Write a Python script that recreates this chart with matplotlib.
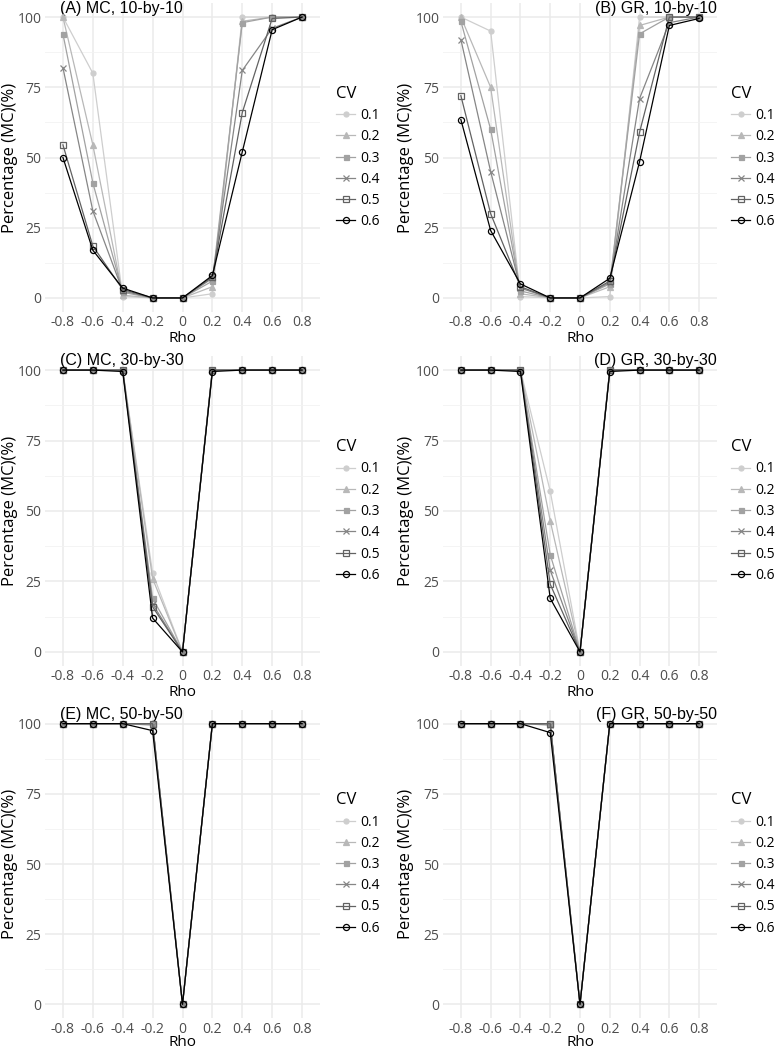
import numpy as np
import matplotlib
matplotlib.use('Agg')
import matplotlib.pyplot as plt

# x categories (Rho) and legend levels (CV)
rho_labels = ["-0.8", "-0.6", "-0.4", "-0.2", "0", "0.2", "0.4", "0.6", "0.8"]
cv_labels = ["0.1", "0.2", "0.3", "0.4", "0.5", "0.6"]

# percentages, one row per CV level
mc_10 = [
    [100, 80, 0.5, 0, 0, 1.5, 100, 100, 100],
    [100, 54.5, 1, 0, 0, 4, 98.5, 100, 100],
    [94, 41, 2, 0, 0, 6, 98, 100, 100],
    [82, 31, 2.5, 0, 0, 7, 81, 96, 100],
    [54.5, 18.5, 3, 0, 0, 7.5, 66, 99.5, 100],
    [50, 17, 3.5, 0, 0, 8, 52, 95.5, 100],
]
gr_10 = [
    [100, 95, 0.5, 0, 0, 0.5, 100, 100, 100],
    [100, 75, 1.5, 0, 0, 4, 97, 100, 100],
    [98.5, 60, 2.5, 0, 0, 5, 94, 100, 100],
    [92, 45, 3.5, 0, 0, 5.5, 71, 98, 100],
    [72, 30, 4, 0, 0, 6, 59, 100, 100],
    [63.5, 24, 5, 0, 0, 7, 48.5, 97, 99.5],
]
mc_30 = [
    [100, 100, 100, 28, 0, 100, 100, 100, 100],
    [100, 100, 100, 26, 0, 100, 100, 100, 100],
    [100, 100, 100, 19, 0, 100, 100, 100, 100],
    [100, 100, 100, 17, 0, 100, 100, 100, 100],
    [100, 100, 100, 16, 0, 100, 100, 100, 100],
    [100, 100, 99.5, 12, 0, 99.5, 100, 100, 100],
]
gr_30 = [
    [100, 100, 100, 57, 0, 100, 100, 100, 100],
    [100, 100, 100, 46.5, 0, 100, 100, 100, 100],
    [100, 100, 100, 34.5, 0, 100, 100, 100, 100],
    [100, 100, 100, 29, 0, 100, 100, 100, 100],
    [100, 100, 100, 24, 0, 100, 100, 100, 100],
    [100, 100, 99.5, 19, 0, 99.5, 100, 100, 100],
]
mc_50 = [
    [100, 100, 100, 100, 0, 100, 100, 100, 100],
    [100, 100, 100, 100, 0, 100, 100, 100, 100],
    [100, 100, 100, 100, 0, 100, 100, 100, 100],
    [100, 100, 100, 99.5, 0, 100, 100, 100, 100],
    [100, 100, 100, 100, 0, 100, 100, 100, 100],
    [100, 100, 100, 97.5, 0, 100, 100, 100, 100],
]
gr_50 = [
    [100, 100, 100, 100, 0, 100, 100, 100, 100],
    [100, 100, 100, 100, 0, 100, 100, 100, 100],
    [100, 100, 100, 100, 0, 100, 100, 100, 100],
    [100, 100, 100, 99.5, 0, 100, 100, 100, 100],
    [100, 100, 100, 100, 0, 100, 100, 100, 100],
    [100, 100, 100, 96.8, 0, 100, 100, 100, 100],
]

panels = [
    ("(A) MC, 10-by-10", mc_10), ("(B) GR, 10-by-10", gr_10),
    ("(C) MC, 30-by-30", mc_30), ("(D) GR, 30-by-30", gr_30),
    ("(E) MC, 50-by-50", mc_50), ("(F) GR, 50-by-50", gr_50),
]

# grey ramp light -> black, ggplot-like shapes
colors = ["#cecece", "#b8b8b8", "#a2a2a2", "#868686", "#626262", "#000000"]
markers = ["o", "^", "s", "x", "s", "o"]
filled = [True, True, True, False, False, False]
msizes = [3.6, 4.0, 3.6, 4.2, 4.4, 4.4]

SANS = ["Open Sans", "DejaVu Sans"]
TITLE = ["Liberation Sans", "DejaVu Sans"]

W, H = 780, 1050
fig = plt.figure(figsize=(W / 100, H / 100), dpi=100)

# axes rectangles in pixels: (left, right) per column, (top, bottom) per row
col_px = [(45, 320), (443, 717)]
row_px = [(3, 312), (356, 666), (709.6, 1018.4)]

x = np.arange(len(rho_labels))
for k, (title, data) in enumerate(panels):
    r, c = divmod(k, 2)
    l, rr = col_px[c]
    t, b = row_px[r]
    ax = fig.add_axes([l / W, 1 - b / H, (rr - l) / W, (b - t) / H])
    ax.set_xlim(-0.6, len(rho_labels) - 0.4)
    ax.set_ylim(-5, 105)
    for i, cv in enumerate(cv_labels):
        ax.plot(x, data[i], color=colors[i], lw=0.9, marker=markers[i],
                ms=msizes[i], mfc=colors[i] if filled[i] else "none",
                mec=colors[i], mew=0.9, label=cv, zorder=3 + i)
    ax.set_xticks(x)
    ax.set_xticklabels(rho_labels)
    ax.set_yticks([0, 25, 50, 75, 100])
    ax.set_yticks([12.5, 37.5, 62.5, 87.5], minor=True)
    ax.grid(which="major", color="#ebebeb", lw=1.1)
    ax.grid(which="minor", axis="y", color="#f2f2f2", lw=0.6)
    ax.set_axisbelow(True)
    for s in ax.spines.values():
        s.set_visible(False)
    ax.tick_params(which="both", length=0)
    ax.tick_params(axis="x", pad=2.5)
    ax.tick_params(axis="y", pad=2.5)
    for lab in ax.get_xticklabels() + ax.get_yticklabels():
        lab.set_family(SANS)
        lab.set_fontsize(10)
        lab.set_color("#4d4d4d")
    ax.set_xlabel("Rho", family=SANS, fontsize=11)
    ax.set_ylabel("Percentage (MC)(%)", family=SANS, fontsize=12)
    rho_off = 24.5 if r == 2 else 26.5
    ax.xaxis.set_label_coords(0.5, -rho_off / (b - t))
    ax.yaxis.set_label_coords(((10 if c == 0 else 406) - l) / (rr - l), 0.5)
    ax.xaxis.label.set_va("center")
    ax.yaxis.label.set_va("center")
    if c == 0:
        ax.text(15 / (rr - l), 1 - 5 / (b - t), title, transform=ax.transAxes,
                ha="left", va="center", family=TITLE, fontsize=11.5)
    else:
        ax.text(1.0, 1 - 5 / (b - t), title, transform=ax.transAxes,
                ha="right", va="center", family=TITLE, fontsize=11.5)
    leg_x = ((336 if c == 0 else 731) - l) / (rr - l)
    leg = ax.legend(loc="center left", bbox_to_anchor=(leg_x, 0.5),
                    frameon=False, title="CV", borderpad=0, borderaxespad=0,
                    handlelength=1.4, handletextpad=0.35, labelspacing=0.45,
                    prop={"family": SANS, "size": 10}, alignment="left")
    leg.get_title().set_family(SANS)
    leg.get_title().set_fontsize(12)

fig.savefig("out.png", dpi=100)
